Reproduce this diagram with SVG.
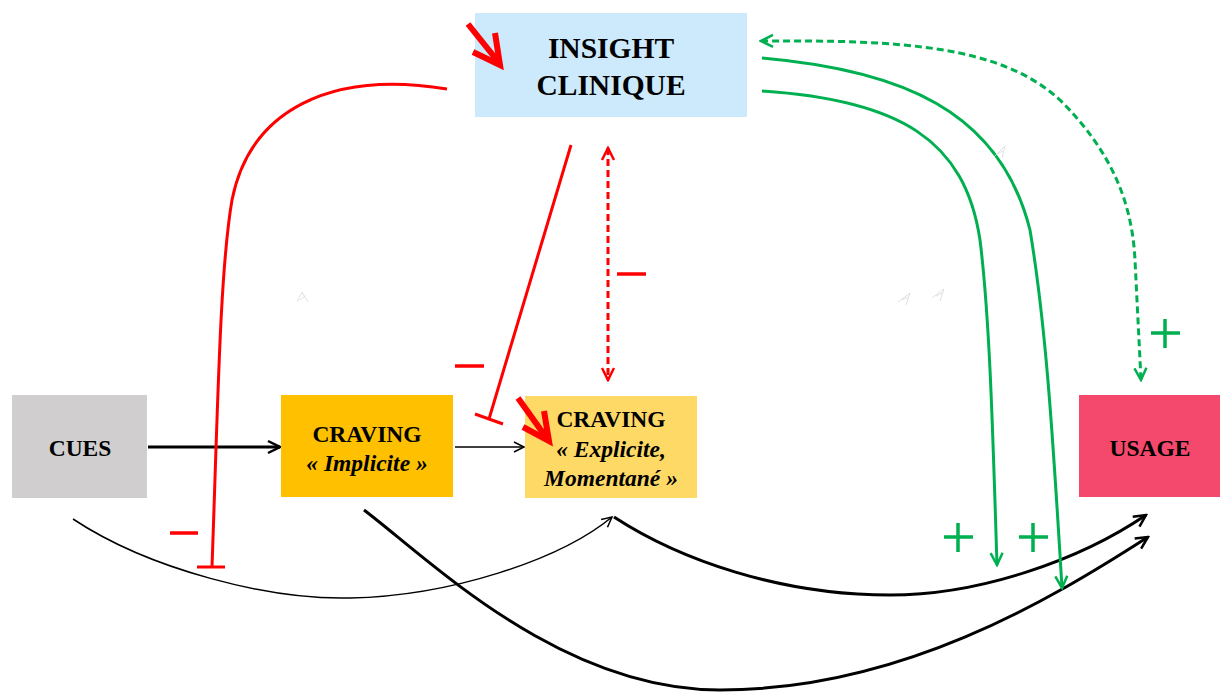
<svg xmlns="http://www.w3.org/2000/svg" width="1220" height="695" viewBox="0 0 1220 695">
<defs>
<style>
.lbl{font-family:"Liberation Serif","Times New Roman",serif;font-weight:bold;fill:#000;text-anchor:middle}
.it{font-style:italic}
.blk{fill:none;stroke:#000}
.red{fill:none;stroke:#FF0000;stroke-width:3}
.grn{fill:none;stroke:#00B050;stroke-width:3}
.dash{stroke-dasharray:7 4}
.sign{stroke-width:3.5;fill:none}
.ghost{fill:none;stroke:#d8d8d8;stroke-width:0.8}
.big{stroke:#FF0000;stroke-width:6;fill:none}
</style>
<marker id="ab" viewBox="0 0 16 16" refX="14" refY="8" markerWidth="16" markerHeight="16" markerUnits="userSpaceOnUse" orient="auto">
<path d="M2,2 L14,8 L2,14" fill="none" stroke="#000" stroke-width="2.5"/>
</marker>
<marker id="abt" viewBox="0 0 14 14" refX="12" refY="7" markerWidth="14" markerHeight="14" markerUnits="userSpaceOnUse" orient="auto">
<path d="M2,2 L12,7 L2,12" fill="none" stroke="#000" stroke-width="1.5"/>
</marker>
<marker id="ar" viewBox="0 0 16 16" refX="14" refY="8" markerWidth="16" markerHeight="16" markerUnits="userSpaceOnUse" orient="auto-start-reverse">
<path d="M2,2 L14,8 L2,14" fill="none" stroke="#FF0000" stroke-width="2.5"/>
</marker>
<marker id="ag" viewBox="0 0 16 16" refX="14" refY="8" markerWidth="16" markerHeight="16" markerUnits="userSpaceOnUse" orient="auto-start-reverse">
<path d="M2,2 L14,8 L2,14" fill="none" stroke="#00B050" stroke-width="2.5"/>
</marker>
</defs>
<rect width="1220" height="695" fill="#fff"/>

<g id="connectors">
<path class="blk" stroke-width="3" d="M148,447 L280,447" marker-end="url(#ab)"/>
<path class="blk" stroke-width="1.5" d="M455,447 L524,447" marker-end="url(#abt)"/>
<path class="blk" stroke-width="1.5" d="M73,519 C150,570 270,600 350,598 C450,596 560,560 612,517" marker-end="url(#abt)"/>
<path class="blk" stroke-width="3" d="M364,510 C430,560 560,690 720,690 C900,690 1050,600 1148,537" marker-end="url(#ab)"/>
<path class="blk" stroke-width="3" d="M614,517 C680,560 780,595 890,595 C980,595 1080,560 1146,515" marker-end="url(#ab)"/>

<path class="red" d="M447,89 C330,70 250,110 232,200 C220,270 218,400 212,567"/>
<path class="red" d="M197,567 L225,567"/>
<path class="red" d="M571,145 L489,419"/>
<path class="red" d="M475,414 L503,424"/>
<path class="red dash" d="M608,148 L608,380" marker-start="url(#ar)" marker-end="url(#ar)"/>

<path class="grn dash" d="M761,41 C900,40 1000,45 1060,100 C1110,150 1132,200 1135,260 L1141,380" marker-start="url(#ag)" marker-end="url(#ag)"/>
<path class="grn" d="M762,58 C900,70 1000,110 1030,230 C1045,320 1052,420 1062,588" marker-end="url(#ag)"/>
<path class="grn" d="M762,91 C900,100 965,140 980,240 C990,320 993,440 997,565" marker-end="url(#ag)"/>
</g>

<g id="signs">
<path class="red sign" d="M617,274 L646,274"/>
<path class="red sign" d="M455,366 L484,366"/>
<path class="red sign" d="M170,533 L198,533"/>
<path class="grn sign" d="M1151,333 L1180,333 M1165,319 L1165,348"/>
<path class="grn sign" d="M944,537 L973,537 M958,523 L958,552"/>
<path class="grn sign" d="M1019,537 L1048,537 M1033,523 L1033,552"/>
</g>

<g id="ghosts">
<path class="ghost" d="M297,302 L302,292 L308,302 M300,300 L305,296"/>
<path class="ghost" d="M898,302 L910,293 L906,305 M902,300 L908,297"/>
<path class="ghost" d="M932,298 L944,289 L940,301 M936,296 L942,293"/>
<path class="ghost" d="M994,157 L1005,146 L1002,158 M997,154 L1003,151"/>
</g>

<g id="insight">
<rect x="475" y="13" width="272" height="104" fill="#CCEAFB"/>
<text class="lbl" x="611" y="58" font-size="29.5">INSIGHT</text>
<text class="lbl" x="611" y="95" font-size="29.5">CLINIQUE</text>
</g>

<g id="cues">
<rect x="12" y="395" width="135" height="103" fill="#D0CECE"/>
<text class="lbl" x="80" y="456" font-size="23.5">CUES</text>
</g>

<g id="craving-implicite">
<rect x="281" y="395" width="172" height="102" fill="#FFC000"/>
<text class="lbl" x="367" y="442" font-size="23.5">CRAVING</text>
<text class="lbl it" x="367" y="471" font-size="23.5">« Implicite »</text>
</g>

<g id="craving-explicite">
<rect x="525" y="396" width="172" height="102" fill="#FFD966"/>
<text class="lbl" x="611" y="427" font-size="23.5">CRAVING</text>
<text class="lbl it" x="611" y="457" font-size="23.5">« Explicite,</text>
<text class="lbl it" x="611" y="486" font-size="23.5">Momentané »</text>
</g>

<g id="usage">
<rect x="1079" y="395" width="141" height="102" fill="#F4496D"/>
<text class="lbl" x="1150" y="456" font-size="23.5">USAGE</text>
</g>

<g id="emphasis-arrows">
<path class="big" d="M468,24 L500,64"/>
<path class="big" d="M473,52 L500,65 L495,33"/>
<path class="big" d="M518,398 L548,440"/>
<path class="big" d="M523,427 L549,441 L544,411"/>
</g>
</svg>
